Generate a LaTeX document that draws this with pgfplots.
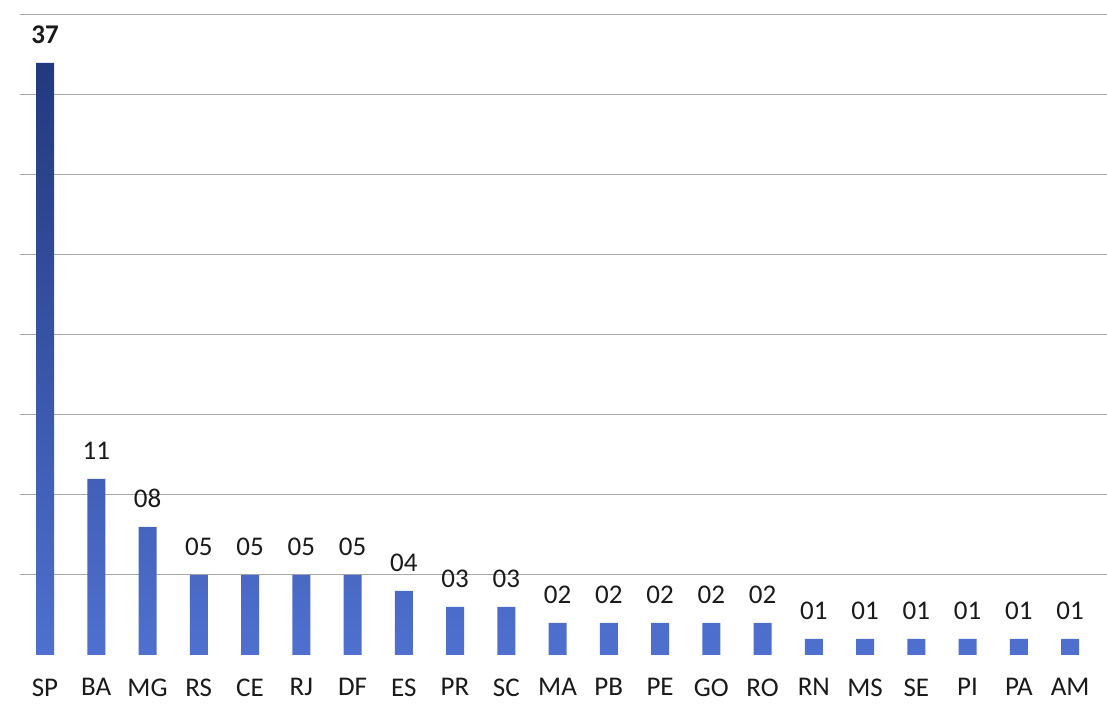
\documentclass[border=0pt]{standalone}
\usepackage{pgfplots}
\pgfplotsset{compat=1.18}
\usepackage{fontspec}
\setmainfont{Carlito}
\definecolor{gridc}{HTML}{A8A8A8}
\definecolor{bartop}{HTML}{21397E}
\definecolor{barbot}{HTML}{4F70CF}
\definecolor{txt}{HTML}{1A1A1A}
\begin{document}
\begin{tikzpicture}
\path[use as bounding box] (0,0) rectangle (553.5pt,363pt);
\begin{axis}[
  at={(10pt,35.5pt)}, anchor=south west,
  scale only axis, width=543.5pt, height=320pt,
  xmin=-0.488, xmax=20.72, ymin=0, ymax=40,
  axis line style={draw=none},
  ytick={5,10,...,40}, yticklabels={},
  ymajorgrids, grid style={gridc, line width=0.5pt},
  major tick style={draw=none},
  xtick={0,...,20},
  xticklabels={SP,BA,MG,RS,CE,RJ,DF,ES,PR,SC,MA,PB,PE,GO,RO,RN,MS,SE,PI,PA,AM},
  xticklabel style={font=\fontsize{13.5}{16}\selectfont, text=txt, yshift=-4pt},
  ybar, bar width=9pt,
  point meta=explicit symbolic,
  nodes near coords,
  every node near coord/.append style={font=\fontsize{13.5}{16}\selectfont, text=txt, yshift=6pt},
  clip=false,
]
\addplot[draw=none, shading=axis, top color=bartop, bottom color=barbot] coordinates {
(0,37) [\textbf{37}]
(1,11) [11]
(2,8) [08]
(3,5) [05]
(4,5) [05]
(5,5) [05]
(6,5) [05]
(7,4) [04]
(8,3) [03]
(9,3) [03]
(10,2) [02]
(11,2) [02]
(12,2) [02]
(13,2) [02]
(14,2) [02]
(15,1) [01]
(16,1) [01]
(17,1) [01]
(18,1) [01]
(19,1) [01]
(20,1) [01]
};
\end{axis}
\end{tikzpicture}
\end{document}
